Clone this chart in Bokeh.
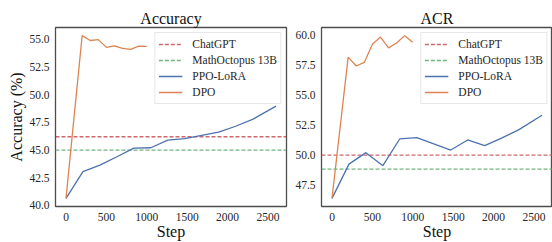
from bokeh.plotting import figure
from bokeh.layouts import row
from bokeh.models import Range1d, FixedTicker, NumeralTickFormatter, Legend, LegendItem
from bokeh.embed import file_html
from bokeh.resources import INLINE

# ---------------- data ----------------
dpo_steps = [0, 200, 300, 400, 500, 600, 700, 800, 900, 1000]
ppo_steps = [0, 210, 420, 630, 840, 1050, 1260, 1470, 1680, 1890, 2100, 2310, 2600]

acc_ppo = [40.64, 43.06, 43.64, 44.4, 45.18, 45.21, 45.89, 46.03, 46.33, 46.62, 47.15, 47.77, 48.97]
acc_dpo = [40.64, 55.33, 54.89, 54.97, 54.27, 54.41, 54.18, 54.09, 54.38, 54.36]
acc_chatgpt = 46.2
acc_mathoctopus = 45.0

acr_ppo = [46.38, 49.24, 50.2, 49.11, 51.36, 51.45, 50.94, 50.42, 51.26, 50.79, 51.42, 52.1, 53.33]
acr_dpo = [46.38, 58.18, 57.44, 57.74, 59.26, 59.86, 58.96, 59.37, 59.98, 59.43]
acr_chatgpt = 50.0
acr_mathoctopus = 48.83

x_ticks = [0, 500, 1000, 1500, 2000, 2500]
acc_ticks = [40.0, 42.5, 45.0, 47.5, 50.0, 52.5, 55.0]
acr_ticks = [47.5, 50.0, 52.5, 55.0, 57.5, 60.0]

titles = ["Accuracy", "ACR"]
y_label = "Accuracy (%)"
x_label = "Step"
names = ["ChatGPT", "MathOctopus 13B", "PPO-LoRA", "DPO"]

# ---------------- style ----------------
FONT = "Liberation Serif"
BLUE = "#4c72b0"
ORANGE = "#dd8452"
GREEN = "#55a868"
RED = "#c44e52"
TXT = "#262626"
FRAME = "#4d4d4d"


def padded(lo, hi, frac=0.05):
    d = (hi - lo) * frac
    return lo - d, hi + d


def make_panel(title, ppo, dpo, chatgpt, octo, yticks, width, left_border, right_border, show_ylabel):
    all_x = ppo_steps + dpo_steps
    all_y = ppo + dpo + [chatgpt, octo]
    x0, x1 = padded(min(all_x), max(all_x))
    y0, y1 = padded(min(all_y), max(all_y))
    p = figure(width=width, height=242, output_backend="svg", toolbar_location=None,
               x_range=Range1d(x0, x1), y_range=Range1d(y0, y1),
               min_border_left=left_border, min_border_right=right_border,
               min_border_top=27, min_border_bottom=32)
    p.title.text = title
    p.title.text_font = FONT
    p.title.text_font_size = "16px"
    p.title.text_font_style = "normal"
    p.title.text_color = "#111111"
    p.title.align = "center"
    p.title.standoff = 2

    p.xgrid.visible = False
    p.ygrid.visible = False
    p.outline_line_color = FRAME
    p.outline_line_width = 1.3
    p.background_fill_color = "white"
    p.border_fill_color = "white"

    for ax in (p.xaxis[0], p.yaxis[0]):
        ax.axis_line_color = None
        ax.major_tick_line_color = None
        ax.minor_tick_line_color = None
        ax.major_tick_out = 0
        ax.major_tick_in = 0
        ax.minor_tick_out = 0
        ax.minor_tick_in = 0
        ax.major_label_text_font = FONT
        ax.major_label_text_font_size = "11.5px"
        ax.major_label_text_font_style = "normal"
        ax.major_label_text_color = TXT
        ax.axis_label_text_font = FONT
        ax.axis_label_text_font_size = "16px"
        ax.axis_label_text_font_style = "normal"
        ax.axis_label_text_color = "#111111"

    p.xaxis[0].ticker = FixedTicker(ticks=x_ticks)
    p.xaxis[0].major_label_standoff = 6
    p.xaxis[0].axis_label = x_label
    p.xaxis[0].axis_label_standoff = -1

    p.yaxis[0].ticker = FixedTicker(ticks=yticks)
    p.yaxis[0].formatter = NumeralTickFormatter(format="0.0")
    p.yaxis[0].major_label_standoff = 6
    if show_ylabel:
        p.yaxis[0].axis_label = y_label
        p.yaxis[0].axis_label_standoff = 1

    r_chat = p.line([x0, x1], [chatgpt, chatgpt], line_color=RED, line_width=1.3,
                    line_dash="4 2", line_alpha=0.85)
    r_octo = p.line([x0, x1], [octo, octo], line_color=GREEN, line_width=1.3,
                    line_dash="4 2", line_alpha=0.85)
    r_ppo = p.line(ppo_steps, ppo, line_color=BLUE, line_width=1.3)
    r_dpo = p.line(dpo_steps, dpo, line_color=ORANGE, line_width=1.3)

    legend = Legend(items=[LegendItem(label=names[0], renderers=[r_chat]),
                           LegendItem(label=names[1], renderers=[r_octo]),
                           LegendItem(label=names[2], renderers=[r_ppo]),
                           LegendItem(label=names[3], renderers=[r_dpo])],
                    location="top_right")
    legend.label_text_font = FONT
    legend.label_text_font_size = "11.5px"
    legend.label_text_color = TXT
    legend.glyph_width = 24
    legend.glyph_height = 16
    legend.label_height = 16
    legend.label_standoff = 10
    legend.spacing = 0
    legend.padding = 3
    legend.margin = 5
    legend.border_line_color = "#d0d0d0"
    legend.border_line_width = 1
    legend.background_fill_alpha = 0.85
    p.add_layout(legend, "center")
    return p


p1 = make_panel(titles[0], acc_ppo, acc_dpo, acc_chatgpt, acc_mathoctopus, acc_ticks,
                width=288, left_border=55, right_border=2, show_ylabel=True)
p2 = make_panel(titles[1], acr_ppo, acr_dpo, acr_chatgpt, acr_mathoctopus, acr_ticks,
                width=264, left_border=33, right_border=0, show_ylabel=False)

layout = row(p1, p2)
open("out.html", "w").write(file_html(layout, INLINE))
